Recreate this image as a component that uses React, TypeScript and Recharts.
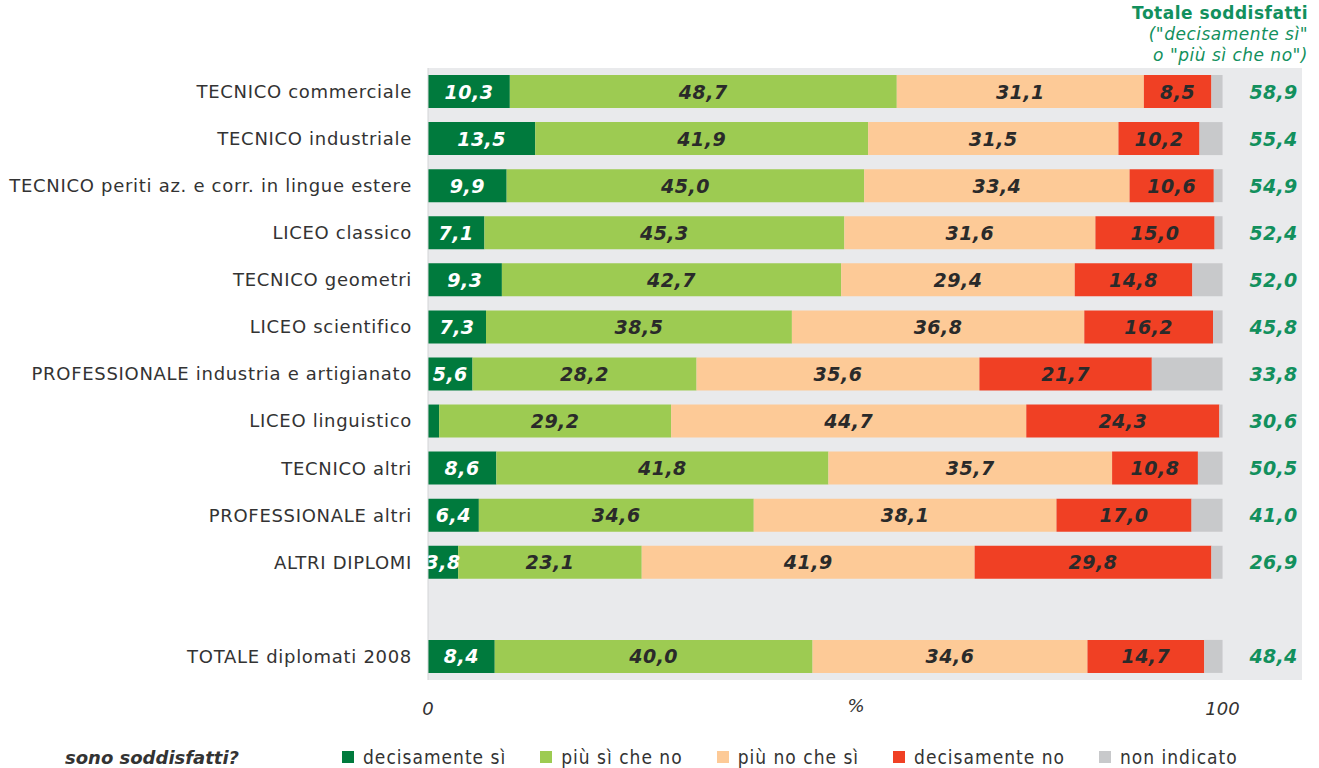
import React from 'react';
import { BarChart, Bar, XAxis, YAxis, CartesianGrid, LabelList, Label } from 'recharts';

const categories = [
  'TECNICO commerciale',
  'TECNICO industriale',
  'TECNICO periti az. e corr. in lingue estere',
  'LICEO classico',
  'TECNICO geometri',
  'LICEO scientifico',
  'PROFESSIONALE industria e artigianato',
  'LICEO linguistico',
  'TECNICO altri',
  'PROFESSIONALE altri',
  'ALTRI DIPLOMI',
  ' ',
  'TOTALE diplomati 2008',
];
const decisamenteSi = [10.3, 13.5, 9.9, 7.1, 9.3, 7.3, 5.6, 1.4, 8.6, 6.4, 3.8, null, 8.4];
const piuSiCheNo = [48.7, 41.9, 45.0, 45.3, 42.7, 38.5, 28.2, 29.2, 41.8, 34.6, 23.1, null, 40.0];
const piuNoCheSi = [31.1, 31.5, 33.4, 31.6, 29.4, 36.8, 35.6, 44.7, 35.7, 38.1, 41.9, null, 34.6];
const decisamenteNo = [8.5, 10.2, 10.6, 15.0, 14.8, 16.2, 21.7, 24.3, 10.8, 17.0, 29.8, null, 14.7];
const nonIndicato = [1.4, 2.9, 1.1, 1.0, 3.8, 1.2, 8.9, 0.4, 3.1, 3.9, 1.4, null, 2.3];
const totaleSoddisfatti = [58.9, 55.4, 54.9, 52.4, 52.0, 45.8, 33.8, 30.6, 50.5, 41.0, 26.9, null, 48.4];
const xTicks = [0, 100];

const seriesNames = ['decisamente sì', 'più sì che no', 'più no che sì', 'decisamente no', 'non indicato'];
const seriesKeys = ['ds', 'ps', 'pn', 'dn', 'ni'];
const seriesColors = ['#007a3d', '#9dcb52', '#fdca97', '#f04024', '#c8c9cb'];
const labelColors = ['#ffffff', '#2a2a2a', '#2a2a2a', '#2a2a2a', null];

const data = categories.map((name, i) => ({
  name,
  ds: decisamenteSi[i],
  ps: piuSiCheNo[i],
  pn: piuNoCheSi[i],
  dn: decisamenteNo[i],
  ni: nonIndicato[i],
  tot: totaleSoddisfatti[i],
}));

const fmt = (v: number) => v.toFixed(1).replace('.', ',');

const FONT = "'DejaVu Sans', Verdana, sans-serif";
const GREEN_TEXT = '#12905d';

const makeValueLabel = (color: string) => (props: any) => {
  const { x, y, width, height, value } = props;
  if (value == null || Number(value) < 2) return null;
  return (
    <text
      x={Number(x) + Number(width) / 2}
      y={Number(y) + Number(height) / 2}
      textAnchor="middle"
      dominantBaseline="central"
      fill={color}
      style={{ fontFamily: FONT, fontSize: 19, fontWeight: 'bold', fontStyle: 'italic', letterSpacing: 0.5 }}
    >
      {fmt(Number(value))}
    </text>
  );
};

const totalLabel = (props: any) => {
  const { x, y, width, height, value } = props;
  if (value == null) return null;
  return (
    <text
      x={Number(x) + Number(width) + 75}
      y={Number(y) + Number(height) / 2}
      textAnchor="end"
      dominantBaseline="central"
      fill={GREEN_TEXT}
      style={{ fontFamily: FONT, fontSize: 19, fontWeight: 'bold', fontStyle: 'italic', letterSpacing: 0.3 }}
    >
      {fmt(Number(value))}
    </text>
  );
};

export default function App() {
  return (
    <div style={{ position: 'absolute', left: 0, top: 0, width: 1319, height: 768, background: '#fff', fontFamily: FONT }}>
      <div
        style={{
          position: 'absolute',
          right: 11,
          top: 3,
          textAlign: 'right',
          color: GREEN_TEXT,
          fontSize: 17,
          lineHeight: '21px',
          fontFamily: FONT,
          letterSpacing: 0.5,
        }}
      >
        <div style={{ fontWeight: 'bold' }}>Totale soddisfatti</div>
        <div style={{ fontStyle: 'italic' }}>("decisamente sì"</div>
        <div style={{ fontStyle: 'italic' }}>o "più sì che no")</div>
      </div>
      <BarChart
        width={1319}
        height={768}
        data={data}
        layout="vertical"
        margin={{ top: 68, right: 17, bottom: 48, left: 0 }}
        barSize={33}
      >
        <CartesianGrid horizontal={false} vertical={false} fill="#e9eaec" fillOpacity={1} />
        <XAxis
          type="number"
          domain={[0, 110]}
          ticks={xTicks}
          height={40}
          axisLine={false}
          tickLine={false}
          tickMargin={16}
          tick={{ fill: '#333', fontSize: 18, fontStyle: 'italic', fontFamily: FONT }}
        >
          <Label value="%" position="center" dx={-9} dy={6} style={{ fill: '#333', fontSize: 18, fontStyle: 'italic', fontFamily: FONT }} />
        </XAxis>
        <YAxis
          type="category"
          dataKey="name"
          width={428}
          tickLine={false}
          tickSize={0}
          tickMargin={16}
          axisLine={{ stroke: '#d3d4d6' }}
          interval={0}
          tick={{ fill: '#333', fontSize: 18, fontFamily: FONT, letterSpacing: 0.7 }}
        />
        {seriesKeys.map((k, i) => (
          <Bar key={k} dataKey={k} name={seriesNames[i]} stackId="a" fill={seriesColors[i]} isAnimationActive={false}>
            {labelColors[i] ? <LabelList dataKey={k} content={makeValueLabel(labelColors[i] as string)} /> : null}
            {k === 'ni' ? <LabelList dataKey="tot" content={totalLabel} /> : null}
          </Bar>
        ))}
      </BarChart>
      <div
        style={{
          position: 'absolute',
          left: 65,
          top: 745,
          height: 24,
          display: 'flex',
          alignItems: 'center',
          fontSize: 18,
          color: '#333',
        }}
      >
        <span style={{ fontWeight: 'bold', fontStyle: 'italic', fontFamily: FONT, width: 277 }}>sono soddisfatti?</span>
        {seriesNames.map((n, i) => (
          <span key={n} style={{ display: 'flex', alignItems: 'center', marginRight: 34 }}>
            <span style={{ display: 'inline-block', width: 12, height: 12, background: seriesColors[i], marginRight: 9 }} />
            <span style={{ fontFamily: "'DejaVu Sans Condensed', 'Liberation Sans Narrow', sans-serif", fontSize: 19, letterSpacing: 1 }}>{n}</span>
          </span>
        ))}
      </div>
    </div>
  );
}
